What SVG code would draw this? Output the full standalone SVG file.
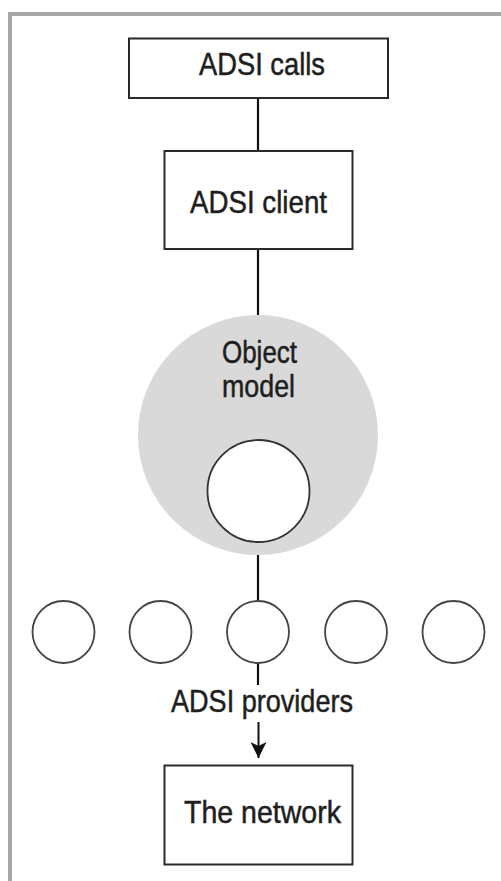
<svg xmlns="http://www.w3.org/2000/svg" width="501" height="881" viewBox="0 0 501 881">
<style>
.box{fill:#fff;stroke:#2a2a2a;stroke-width:2}
.prov{fill:#fff;stroke:#444;stroke-width:1.8}
.lbl{font-family:"Liberation Sans Narrow","Liberation Sans",Arial,sans-serif;font-size:32px;fill:#1e1e1e;stroke:#1e1e1e;stroke-width:0.5}
.conn{stroke:#111;stroke-width:2.2;fill:none}
</style>
<defs>
<marker id="arr" viewBox="0 0 10 10" refX="10" refY="5" markerWidth="20" markerHeight="16" markerUnits="userSpaceOnUse" orient="auto">
<path d="M0,0 L10,5 L0,10 L2.5,5 z" fill="#111"/>
</marker>
</defs>
<rect width="501" height="881" fill="#fff"/>
<path d="M10,881 V14 H501" fill="none" stroke="#a6a6a6" stroke-width="4"/>
<g id="connectors">
<line class="conn" x1="258" y1="98" x2="258" y2="150"/>
<line class="conn" x1="258" y1="249" x2="258" y2="315"/>
<line class="conn" x1="258" y1="555" x2="258" y2="601"/>
<line class="conn" x1="258" y1="663" x2="258" y2="685"/>
<line class="conn" x1="258.5" y1="722" x2="258.5" y2="758" marker-end="url(#arr)" style="stroke-width:2"/>
</g>
<g id="adsi-calls">
<rect class="box" x="129" y="38.5" width="259" height="59.5"/>
<text class="lbl" x="199" y="75" textLength="126" lengthAdjust="spacingAndGlyphs">ADSI calls</text>
</g>
<g id="adsi-client">
<rect class="box" x="164.5" y="151" width="188" height="98"/>
<text class="lbl" x="190" y="213" textLength="137" lengthAdjust="spacingAndGlyphs">ADSI client</text>
</g>
<g id="object-model">
<circle cx="258" cy="435" r="120" fill="#d9d9d9"/>
<text class="lbl" x="222" y="363" textLength="75" lengthAdjust="spacingAndGlyphs">Object</text>
<text class="lbl" x="222" y="397" textLength="73" lengthAdjust="spacingAndGlyphs">model</text>
<circle cx="258.5" cy="491" r="51" fill="#fff" stroke="#333" stroke-width="1.8"/>
</g>
<g id="providers">
<circle class="prov" cx="63.5" cy="632" r="31"/>
<circle class="prov" cx="160.5" cy="632" r="31"/>
<circle class="prov" cx="258" cy="632" r="31"/>
<circle class="prov" cx="356" cy="632" r="31"/>
<circle class="prov" cx="453.5" cy="632" r="31"/>
<text class="lbl" x="171" y="712" textLength="182" lengthAdjust="spacingAndGlyphs">ADSI providers</text>
</g>
<g id="network">
<rect class="box" x="164.5" y="765.5" width="188" height="99"/>
<text class="lbl" x="184" y="823" textLength="157" lengthAdjust="spacingAndGlyphs">The network</text>
</g>
</svg>
